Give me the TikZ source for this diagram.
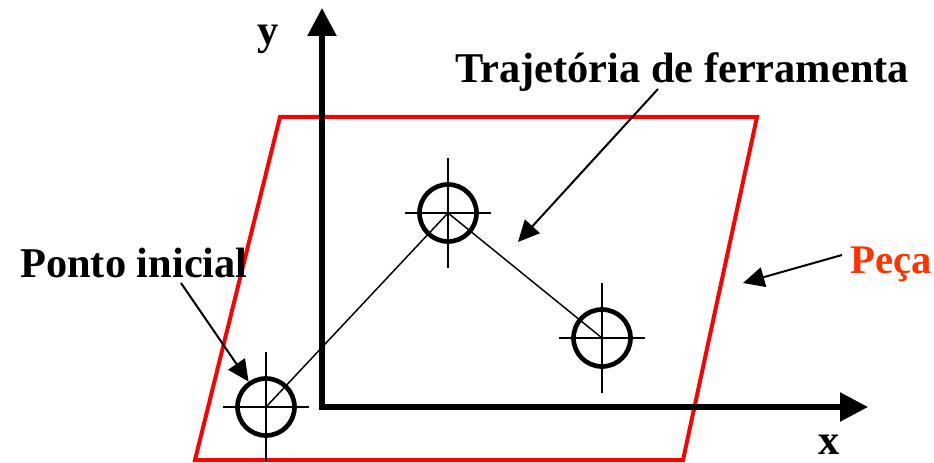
\documentclass[tikz,border=0pt]{standalone}
\usepackage{fontspec}
\setmainfont{Liberation Serif}
\usetikzlibrary{arrows.meta}
\definecolor{pecared}{RGB}{255,51,0}

\begin{document}
\begin{tikzpicture}[x=0.75pt,y=-0.75pt,
        txt/.style={inner sep=0pt,anchor=base west,font=\fontsize{31.8}{36}\selectfont\bfseries},
        tool/.style={circle,draw,line width=3.5pt,minimum size=42.75pt,inner sep=0pt},
        cross/.style={line width=1.5pt},
        pointer/.style={line width=1.5pt,-{Triangle[length=16pt,width=15pt]}},
        axis/.style={line width=4pt,{Triangle[length=21pt,width=21pt]}-{Triangle[length=21pt,width=21pt]}}]
        \useasboundingbox (0,0) rectangle (934,463);
        % peca
        \draw[red,line width=3pt] (195,460) -- (280,117) -- (757,117) -- (683,460) -- cycle;
        % eixos
        \coordinate (O) at (322,407);
        \coordinate (ytip) at (322,8);
        \coordinate (xtip) at (868,407);
        \draw[axis] (ytip) -- (O) -- (xtip);
        \node[txt] (ylab) at (257,45) {y};
        \node[txt] (xlab) at (818,454) {x};
        % pontos da trajetoria
        \foreach \n/\x/\y in {p1/266/407,p2/448/213,p3/602/338} {
            \node[tool] (\n) at (\x,\y) {};
            \draw[cross] (\x-43,\y) -- (\x+43,\y);
            \draw[cross] (\x,\y-55) -- (\x,\y+55);
        }
        \draw[line width=1.1pt] (p1.center) -- (p2.center) -- (p3.center);
        % textos
        \node[txt] (traj) at (455,83) {Trajetória de ferramenta};
        \node[txt] (ponto) at (20,277) {Ponto inicial};
        \node[txt,text=pecared,font=\fontsize{30.5}{36}\selectfont\bfseries] (peca) at (850,273) {Peça};
        \coordinate (traj-tail) at (658,89);
        \coordinate (traj-tip) at (518,242);
        \coordinate (ponto-tail) at (181,283);
        \coordinate (peca-tail) at (842,255);
        \coordinate (peca-tip) at (743,283);
        \draw[pointer] (traj-tail) -- (traj-tip);
        \draw[pointer] (ponto-tail) -- (p1);
        \draw[pointer] (peca-tail) -- (peca-tip);
    \end{tikzpicture}
\end{document}
